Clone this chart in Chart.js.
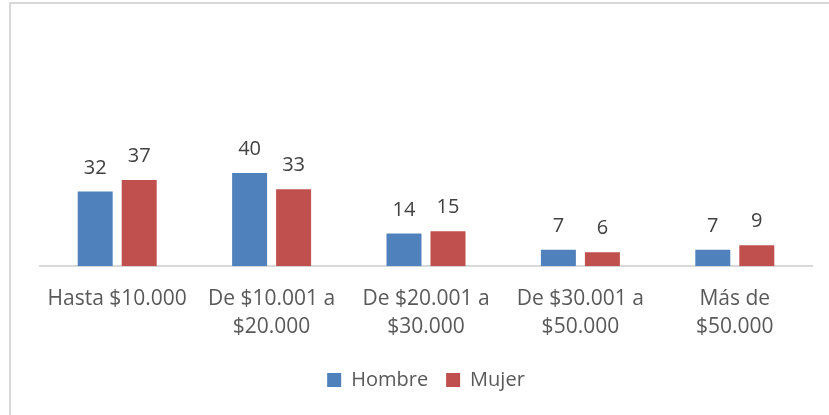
<!DOCTYPE html>
<html lang="es">
<head>
<meta charset="UTF-8" />
<title>Hombre / Mujer por ingreso</title>
<script src="https://cdn.jsdelivr.net/npm/chart.js"></script>
<style>
  html, body { margin: 0; padding: 0; background: #fff; overflow: hidden; }
  #frame {
    position: absolute; left: 9px; top: 2px; width: 900px; height: 500px;
    border-left: 2px solid #d9d9d9; border-top: 2px solid #d9d9d9;
  }
  #wrap { position: absolute; left: 0; top: 0; width: 829px; height: 415px; }
</style>
</head>
<body>
<div id="frame"></div>
<div id="wrap"><canvas id="chart" width="829" height="415"></canvas></div>

<script>
  // categories and series
  const categories = [
    "Hasta $10.000",
    ["De $10.001 a", "$20.000"],
    ["De $20.001 a", "$30.000"],
    ["De $30.001 a", "$50.000"],
    ["Más de", "$50.000"]
  ];
  const hombre = [32, 40, 14, 7, 7];
  const mujer = [37, 33, 15, 6, 9];

  // value labels above bars
  const valueLabels = {
    id: "valueLabels",
    afterDatasetsDraw(chart) {
      const ctx = chart.ctx;
      ctx.save();
      ctx.font = "20px 'Open Sans'";
      ctx.fillStyle = "#404040";
      ctx.textAlign = "center";
      ctx.textBaseline = "alphabetic";
      chart.data.datasets.forEach(function (ds, i) {
        chart.getDatasetMeta(i).data.forEach(function (bar, j) {
          ctx.fillText(String(ds.data[j]), bar.x, bar.y - 18);
        });
      });
      ctx.restore();
    }
  };

  new Chart(document.getElementById("chart"), {
    type: "bar",
    data: {
      labels: categories,
      datasets: [
        { label: "Hombre", data: hombre, backgroundColor: "#4f81bd" },
        { label: "Mujer", data: mujer, backgroundColor: "#c0504d" }
      ]
    },
    options: {
      responsive: false,
      animation: false,
      categoryPercentage: 0.57,
      barPercentage: 0.795,
      layout: { padding: { left: 40, right: 17, top: 33, bottom: 15 } },
      plugins: {
        legend: {
          position: "bottom",
          labels: {
            boxWidth: 14, boxHeight: 14, padding: 18,
            color: "#595959",
            font: { family: "'Open Sans'", size: 20 }
          }
        },
        tooltip: { enabled: false }
      },
      scales: {
        x: {
          grid: { display: false },
          border: { display: true, color: "#d9d9d9", width: 2 },
          ticks: {
            color: "#595959",
            padding: 11,
            maxRotation: 0,
            autoSkip: false,
            font: { family: "'Open Sans'", size: 21, lineHeight: 1.33 }
          }
        },
        y: { display: false, min: 0, max: 100 }
      }
    },
    plugins: [valueLabels]
  });
</script>
</body>
</html>
